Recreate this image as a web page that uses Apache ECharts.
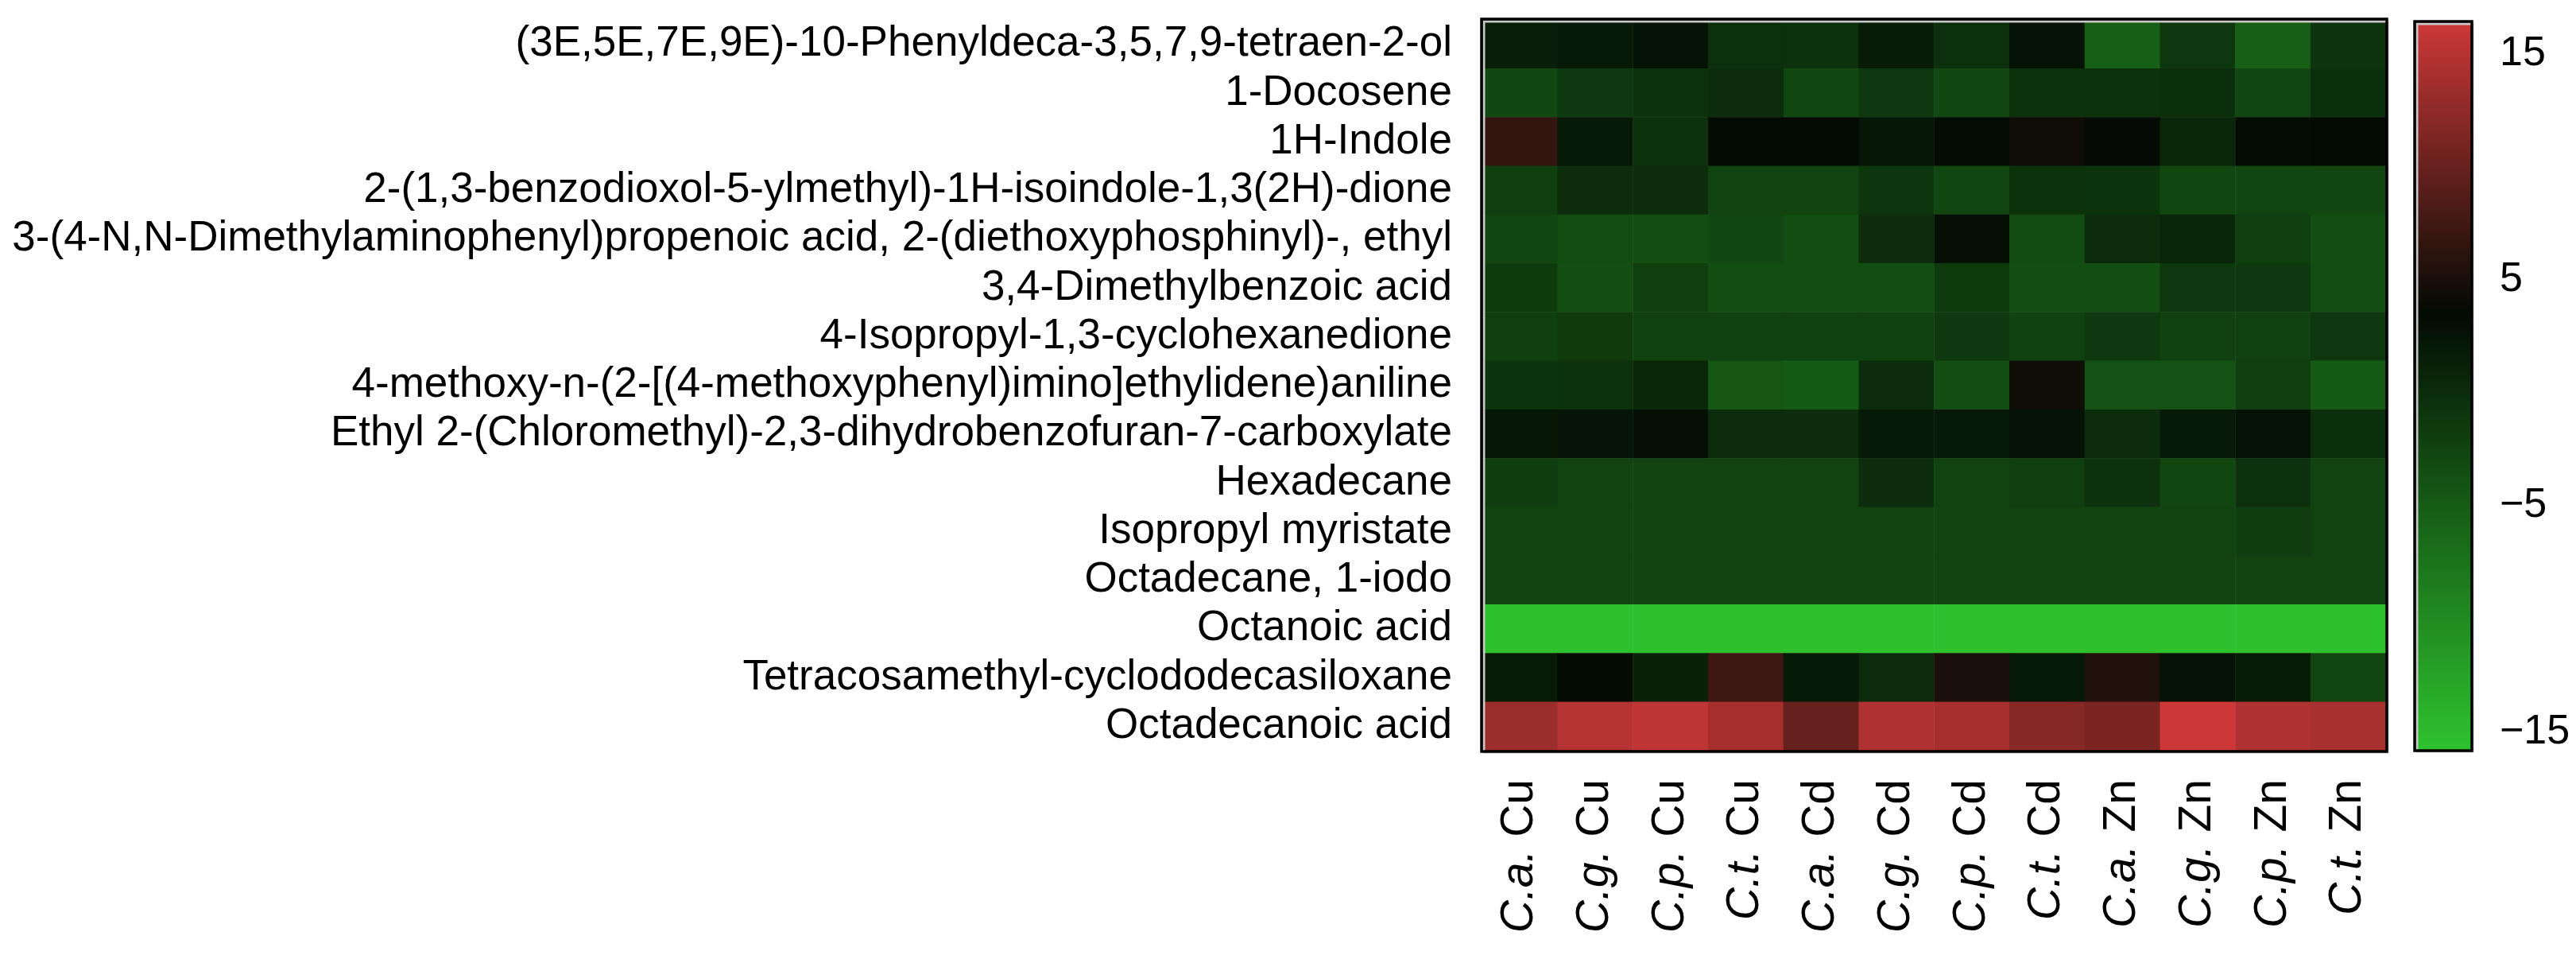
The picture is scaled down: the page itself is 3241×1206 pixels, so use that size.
<!DOCTYPE html>
<html>
<head>
<meta charset="utf-8">
<script src="https://cdn.jsdelivr.net/npm/echarts@6/dist/echarts.min.js"></script>
<style>
html,body{margin:0;padding:0;background:#fff;}
#chart{width:3241px;height:1206px;}
</style>
</head>
<body>
<div id="chart"></div>
<script>
// ---------- data ----------
const compounds = [
  '(3E,5E,7E,9E)-10-Phenyldeca-3,5,7,9-tetraen-2-ol',
  '1-Docosene',
  '1H-Indole',
  '2-(1,3-benzodioxol-5-ylmethyl)-1H-isoindole-1,3(2H)-dione',
  '3-(4-N,N-Dimethylaminophenyl)propenoic acid, 2-(diethoxyphosphinyl)-, ethyl',
  '3,4-Dimethylbenzoic acid',
  '4-Isopropyl-1,3-cyclohexanedione',
  '4-methoxy-n-(2-[(4-methoxyphenyl)imino]ethylidene)aniline',
  'Ethyl 2-(Chloromethyl)-2,3-dihydrobenzofuran-7-carboxylate',
  'Hexadecane',
  'Isopropyl myristate',
  'Octadecane, 1-iodo',
  'Octanoic acid',
  'Tetracosamethyl-cyclododecasiloxane',
  'Octadecanoic acid'
];
const samples = ['C.a. Cu','C.g. Cu','C.p. Cu','C.t. Cu','C.a. Cd','C.g. Cd','C.p. Cd','C.t. Cd','C.a. Zn','C.g. Zn','C.p. Zn','C.t. Zn'];

const phenyldeca   = [1.5, 2.0, 2.6, -0.3, -0.5, 1.8, -0.3, 2.6, -5.3, -1.2, -5.3, -0.8];
const docosene     = [-2.8, -1.2, -0.6, -0.1, -2.8, -1.2, -2.8, -0.6, -0.6, -0.2, -2.6, -0.2];
const indole       = [6.6, 2.0, -0.3, 3.6, 3.5, 2.2, 3.3, 4.4, 3.7, 0.5, 3.3, 3.6];
const benzodioxol  = [-2.0, -0.1, -0.1, -2.4, -2.4, -1.0, -2.7, -0.6, -0.9, -2.7, -2.7, -2.7];
const dimethylamino= [-2.7, -3.4, -3.4, -2.8, -3.4, -0.1, 2.9, -3.3, 0.1, 0.8, -1.9, -3.4];
const dimethylbenz = [-1.6, -3.6, -1.9, -3.4, -3.4, -3.4, -1.6, -3.4, -3.4, -1.1, -1.4, -3.4];
const isopropylCy  = [-2.0, -1.5, -2.2, -2.2, -2.2, -2.2, -1.4, -2.2, -1.3, -2.2, -2.2, -1.1];
const methoxyAnil  = [-0.9, -0.6, 0.5, -4.4, -4.8, -0.1, -3.6, 4.3, -3.9, -3.9, -2.0, -4.8];
const ethylChloro  = [2.2, 2.4, 2.9, -0.1, -0.1, 2.0, 2.0, 2.6, -0.1, 2.0, 2.6, -0.2];
const hexadecane   = [-1.8, -2.4, -2.4, -2.4, -2.4, -0.1, -2.4, -2.0, -0.5, -2.7, -0.5, -2.4];
const isoMyristate = [-2.4, -2.4, -2.4, -2.4, -2.4, -2.4, -2.4, -2.4, -2.4, -2.4, -1.8, -2.4];
const octadecIodo  = [-2.4, -2.4, -2.4, -2.4, -2.4, -2.4, -2.4, -2.4, -2.4, -2.4, -2.4, -2.4];
const octanoic     = [-15.7, -15.7, -15.7, -15.7, -15.7, -15.7, -15.7, -15.7, -15.7, -15.7, -15.7, -15.7];
const tetracosa    = [1.8, 3.6, 1.2, 7.2, 2.0, 0.1, 5.1, 2.0, 5.5, 2.6, 1.8, -2.7];
const octadecanoic = [13.3, 14.9, 15.6, 14.0, 9.9, 14.6, 14.0, 11.9, 11.2, 16.4, 14.6, 14.1];

const rows = [phenyldeca, docosene, indole, benzodioxol, dimethylamino, dimethylbenz,
  isopropylCy, methoxyAnil, ethylChloro, hexadecane, isoMyristate, octadecIodo,
  octanoic, tetracosa, octadecanoic];

const colorbarTicks = [-15, -5, 5, 15];
const scaleMin = -15.8, scaleMax = 16.4, scaleMid = 3.6;

// ---------- layout / style ----------
const FONT = '"Liberation Sans", Arial, Helvetica, sans-serif';
const HM = {left: 1865, top: 25, width: 1137, height: 919};
const CB = {left: 3039, top: 28, width: 70, height: 915};

const cGreen = [46, 194, 46], cBlack = [3, 10, 3], cRed = [204, 56, 56];
function lerp(a, b, t){ return a.map((v,i)=>Math.round(v + (b[i]-v)*t)); }
function hex(c){ return '#' + c.map(v=>v.toString(16).padStart(2,'0')).join(''); }
const palette = [];
const NSTEP = 161;
for (let i = 0; i < NSTEP; i++) {
  const v = scaleMin + (scaleMax - scaleMin) * i / (NSTEP - 1);
  let c;
  if (v <= scaleMid) c = lerp(cBlack, cGreen, (scaleMid - v) / (scaleMid - scaleMin));
  else c = lerp(cBlack, cRed, (v - scaleMid) / (scaleMax - scaleMid));
  palette.push(hex(c));
}

const data = [];
rows.forEach((r, yi) => r.forEach((v, xi) => data.push([xi, yi, v])));

const chart = echarts.init(document.getElementById('chart'), null, {renderer: 'canvas'});
chart.setOption({
  backgroundColor: '#ffffff',
  animation: false,
  grid: [
    {left: HM.left, top: HM.top, width: HM.width, height: HM.height, containLabel: false},
    {left: CB.left, top: CB.top, width: CB.width, height: CB.height, containLabel: false}
  ],
  xAxis: [
    {
      type: 'category', data: samples, gridIndex: 0,
      axisLine: {show: false}, axisTick: {show: false}, splitLine: {show: false},
      axisLabel: {
        rotate: 90, margin: 36, interval: 0, color: '#000',
        formatter: v => { const p = v.split(' '); return '{i|' + p[0] + '}{n| ' + p[1] + '}'; },
        rich: {
          i: {fontStyle: 'italic', fontSize: 57, fontFamily: FONT, color: '#000'},
          n: {fontSize: 57, fontFamily: FONT, color: '#000'}
        }
      }
    },
    {type: 'value', gridIndex: 1, show: false, min: 0, max: 1}
  ],
  yAxis: [
    {
      type: 'category', data: compounds, gridIndex: 0, inverse: true,
      axisLine: {show: false}, axisTick: {show: false}, splitLine: {show: false},
      axisLabel: {margin: 38, interval: 0, fontSize: 53, fontFamily: FONT, color: '#000'}
    },
    {
      type: 'value', gridIndex: 1, position: 'right', min: scaleMin, max: scaleMax,
      axisLine: {show: false}, splitLine: {show: false},
      axisTick: {show: true, customValues: colorbarTicks, length: 17, lineStyle: {color: '#222', width: 3}},
      axisLabel: {customValues: colorbarTicks, margin: 36, fontSize: 52, fontFamily: FONT, color: '#000',
        formatter: v => String(v).replace('-', '\u2212')}
    }
  ],
  visualMap: {
    type: 'continuous', min: scaleMin, max: scaleMax, calculable: false,
    seriesIndex: 0, orient: 'vertical', left: CB.left, top: CB.top,
    itemWidth: CB.width, itemHeight: CB.height, padding: 0, text: null, showLabel: false,
    inRange: {color: palette}
  },
  series: [
    {
      type: 'heatmap', xAxisIndex: 0, yAxisIndex: 0, data: data,
      progressive: 0, itemStyle: {borderWidth: 0}, emphasis: {disabled: true}
    },
    {type: 'line', xAxisIndex: 1, yAxisIndex: 1, data: [], silent: true}
  ],
  graphic: [
    {type: 'rect', z: 100, silent: true,
      shape: {x: HM.left + 2, y: HM.top + 2, width: HM.width, height: HM.height},
      style: {fill: null, stroke: '#c8c8c8', lineWidth: 3}},
    {type: 'rect', z: 101, silent: true,
      shape: {x: HM.left - 1, y: HM.top - 1, width: HM.width + 2, height: HM.height + 2},
      style: {fill: null, stroke: '#000', lineWidth: 3.5}},
    {type: 'rect', z: 100, silent: true,
      shape: {x: CB.left + 2, y: CB.top + 2, width: CB.width, height: CB.height},
      style: {fill: null, stroke: '#c8c8c8', lineWidth: 3}},
    {type: 'rect', z: 101, silent: true,
      shape: {x: CB.left - 1, y: CB.top - 1, width: CB.width + 2, height: CB.height + 2},
      style: {fill: null, stroke: '#000', lineWidth: 3.5}}
  ]
});
</script>
</body>
</html>
